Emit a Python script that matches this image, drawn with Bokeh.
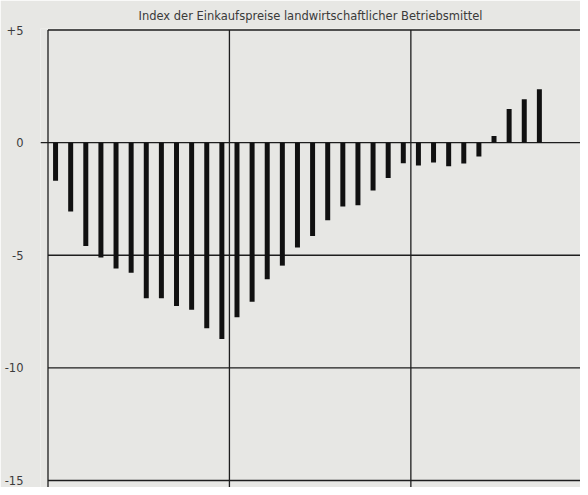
from bokeh.plotting import figure
from bokeh.models import Range1d, FixedTicker
from bokeh.embed import file_html
from bokeh.resources import INLINE

# ---- data ----
title_text = "Index der Einkaufspreise landwirtschaftlicher Betriebsmittel"
values = [-1.69, -3.06, -4.59, -5.10, -5.59, -5.78, -6.91, -6.91, -7.25, -7.42, -8.24, -8.72,
          -7.75, -7.06, -6.07, -5.46, -4.66, -4.15, -3.45, -2.84, -2.78, -2.13, -1.57, -0.91,
          -1.02, -0.88, -1.05, -0.93, -0.61, 0.30, 1.49, 1.93, 2.37]
periods = list(range(len(values)))
y_ticks = [5, 0, -5, -10, -15]
y_tick_labels = ["+5", "0", "-5", "-10", "-15"]
section_edges = [0, 12, 24, 36]

bg = "#e7e7e4"
ink = "#1e1e1e"

p = figure(width=580, height=487,
           x_range=Range1d(-0.496, 35.22), y_range=Range1d(-15.31, 5.067),
           output_backend="svg", toolbar_location=None,
           min_border_left=40, min_border_right=0, min_border_top=28, min_border_bottom=0)
p.background_fill_color = bg
p.border_fill_color = bg
p.outline_line_color = None
p.grid.visible = False
p.xaxis.visible = False

# y axis labels
ax = p.yaxis[0]
ax.ticker = FixedTicker(ticks=y_ticks)
ax.major_label_overrides = {t: l for t, l in zip(y_ticks, y_tick_labels)}
ax.axis_line_color = None
ax.major_tick_line_color = None
ax.minor_tick_line_color = None
ax.major_label_text_font = "DejaVu Sans"
ax.major_label_text_font_size = "11.5px"
ax.major_label_text_color = "#3c3c3c"
ax.major_label_standoff = 11

# title
p.title.text = title_text
p.title.text_font = "DejaVu Sans"
p.title.text_font_size = "11.5px"
p.title.text_font_style = "normal"
p.title.text_color = "#3a3a3a"
p.title.align = "center"
p.title.offset = 8
p.title.standoff = 12

# horizontal rules (zero line extends a bit to the left of the frame)
x_end = section_edges[-1]
h_x0 = [-0.5 if t == 0 else section_edges[0] for t in y_ticks]
p.segment(x0=h_x0, y0=y_ticks, x1=[x_end] * len(y_ticks), y1=y_ticks,
          line_color=ink, line_width=1.3)

# vertical section rules
p.segment(x0=section_edges, y0=[y_ticks[0]] * len(section_edges),
          x1=section_edges, y1=[-16] * len(section_edges),
          line_color=ink, line_width=1.3)

# bars
xc = [i + 0.5 for i in periods]
p.vbar(x=xc, top=values, bottom=0, width=0.33, fill_color="#111111", line_color=None)

open("out.html", "w").write(file_html(p, INLINE))
